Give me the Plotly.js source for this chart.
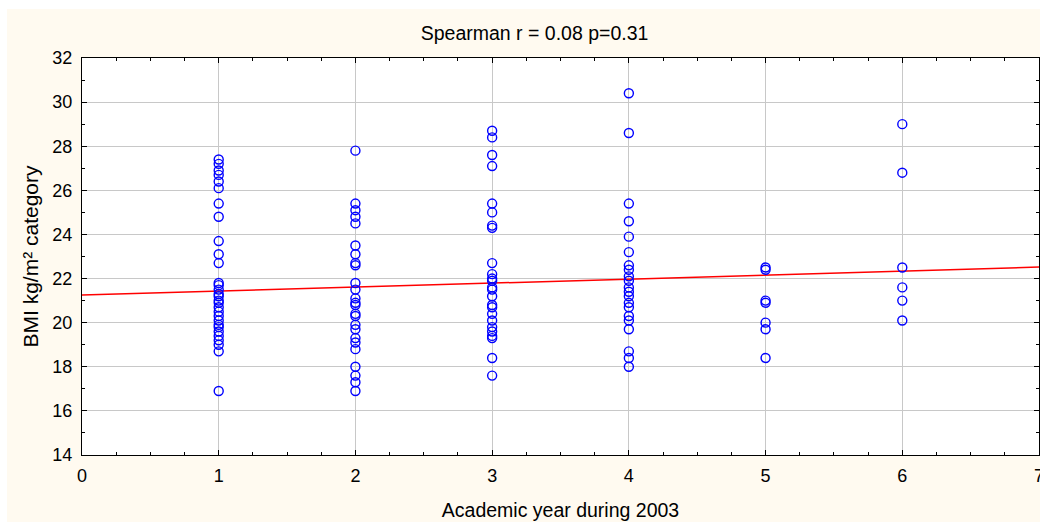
<!DOCTYPE html>
<html>
<head>
<meta charset="utf-8">
<script src="https://cdn.plot.ly/plotly-3.0.1.min.js"></script>
<style>
  html, body { margin: 0; padding: 0; background: #ffffff; width: 1040px; height: 522px; overflow: hidden; }
  #chart { position: absolute; left: 7px; top: 9px; width: 1033px; height: 513px; }
</style>
</head>
<body>
<div id="chart"></div>
<script>
// ---- data ----
const years = [1, 2, 3, 4, 5, 6];
const bmiYear1 = [27.4, 27.2, 26.9, 26.7, 26.4, 26.1, 25.4, 24.8, 23.7, 23.1, 22.7, 21.8, 21.7, 21.5, 21.3, 21.2, 21.0, 20.9, 20.7, 20.5, 20.3, 20.1, 19.9, 19.8, 19.6, 19.4, 19.2, 19.0, 18.7, 16.9];
const bmiYear2 = [27.8, 25.4, 25.1, 24.8, 24.5, 23.5, 23.1, 22.7, 22.6, 21.8, 21.5, 21.1, 20.9, 20.8, 20.4, 20.3, 19.9, 19.7, 19.3, 19.1, 18.8, 18.0, 17.6, 17.3, 16.9];
const bmiYear3 = [28.7, 28.4, 27.6, 27.1, 25.4, 25.0, 24.4, 24.3, 22.7, 22.2, 22.0, 21.9, 21.6, 21.5, 21.2, 20.8, 20.7, 20.4, 20.1, 19.8, 19.6, 19.4, 19.3, 18.4, 17.6];
const bmiYear4 = [30.4, 28.6, 25.4, 24.6, 23.9, 23.2, 22.6, 22.4, 22.1, 21.9, 21.6, 21.4, 21.2, 20.9, 20.7, 20.3, 20.1, 19.7, 18.7, 18.4, 18.0];
const bmiYear5 = [22.5, 22.4, 21.0, 20.9, 20.0, 19.7, 18.4];
const bmiYear6 = [29.0, 26.8, 22.5, 21.6, 21.0, 20.1];
const fitYears = [0, 7];
const fitBMI = [21.25, 22.52];
const xTickVals = [0, 1, 2, 3, 4, 5, 6, 7];
const yTickVals = [14, 16, 18, 20, 22, 24, 26, 28, 30, 32];
const titleText = "Spearman r = 0.08 p=0.31";
const xTitle = "Academic year during 2003";
const yTitle = "BMI kg/m² category";

// ---- build point lists ----
const groups = [bmiYear1, bmiYear2, bmiYear3, bmiYear4, bmiYear5, bmiYear6];
const px = [], py = [];
groups.forEach((g, i) => g.forEach(v => { px.push(years[i]); py.push(v); }));

const font = "Liberation Sans, Arial, sans-serif";

const traces = [
  {
    x: fitYears, y: fitBMI, type: "scatter", mode: "lines",
    line: { color: "#ff0000", width: 1.5 }, hoverinfo: "skip", showlegend: false
  },
  {
    x: px, y: py, type: "scatter", mode: "markers",
    marker: { symbol: "circle-open", size: 9, color: "#0000ff", line: { width: 1.4, color: "#0000ff" } },
    showlegend: false
  }
];

const layout = {
  width: 1033, height: 513,
  paper_bgcolor: "#fffaf0",
  plot_bgcolor: "#ffffff",
  margin: { l: 75, r: 1, t: 49, b: 67 },
  font: { family: font, size: 18, color: "#000000" },
  title: {
    text: titleText, xref: "container", yref: "container",
    x: 0.5107, y: 0.953, xanchor: "center", yanchor: "middle",
    font: { family: font, size: 19.5, color: "#000000" }
  },
  xaxis: {
    range: [0, 7], tickmode: "array", tickvals: xTickVals,
    showline: true, linecolor: "#000000", linewidth: 1, mirror: "allticks",
    ticks: "inside", ticklen: 5, tickcolor: "#000000",
    showgrid: true, gridcolor: "#c8c8c8", gridwidth: 1, zeroline: false,
    minor: { dtick: 0.25, ticks: "inside", ticklen: 3, tickcolor: "#000000", showgrid: false },
    tickfont: { family: font, size: 18 },
    ticklabelstandoff: 4, ticklabeloverflow: "allow",
    title: { text: xTitle, font: { family: font, size: 19.5 }, standoff: 18 }
  },
  yaxis: {
    range: [14, 32], tickmode: "array", tickvals: yTickVals,
    showline: true, linecolor: "#000000", linewidth: 1, mirror: "allticks",
    ticks: "inside", ticklen: 5, tickcolor: "#000000",
    showgrid: true, gridcolor: "#c8c8c8", gridwidth: 1, zeroline: false,
    minor: { dtick: 1, ticks: "inside", ticklen: 3, tickcolor: "#000000", showgrid: false },
    tickfont: { family: font, size: 18 },
    ticklabelstandoff: 5,
    title: { text: yTitle, font: { family: font, size: 21 }, standoff: 8 }
  }
};

Plotly.newPlot("chart", traces, layout, { displayModeBar: false, staticPlot: true });
</script>
</body>
</html>
